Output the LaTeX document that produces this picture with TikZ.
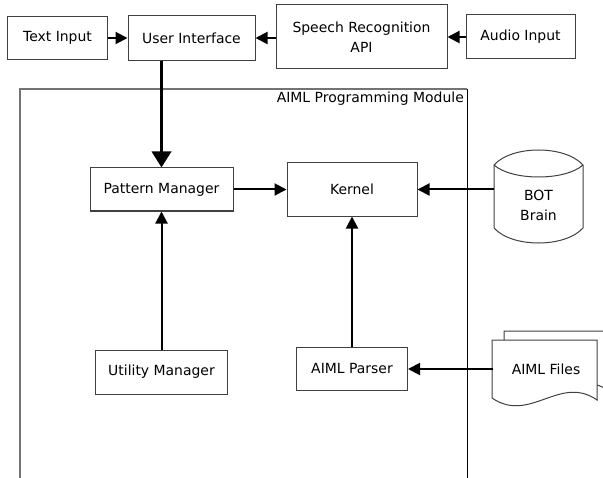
\documentclass[tikz,border=0pt]{standalone}
\usepackage{fontspec}
\setmainfont{DejaVu Sans}
\usepackage{tikz}
\usetikzlibrary{arrows.meta,positioning}

\begin{document}
\begin{tikzpicture}[x=1bp, y=-1bp, font=\fontsize{14}{20}\selectfont,
	>={Triangle[length=12bp,width=12bp]},
	box/.style={draw=black!75, line width=1bp, fill=white, inner sep=0pt, align=center},
	link/.style={->, line width=2bp},
	biglink/.style={-{Triangle[length=16bp,width=19bp]}, line width=3.5bp}]
\clip (0,0) rectangle (603,478);

% ---- module frame ----
\draw[black!55, line width=2bp] (20,482) |- (467,89);
\draw[line width=0.9bp] (467,89) -- (467,482);
\node[anchor=north east, inner sep=1pt] (modlabel) at (465,91) {AIML Programming Module};

% ---- input row ----
\node[box, minimum width=99bp, minimum height=43bp] (txtin) at (57.5,38) {Text Input};
\node[box, minimum width=127bp, minimum height=45bp] (ui) at (191.5,38) {User Interface};
\node[box, minimum width=171bp, minimum height=64bp] (speech) at (361.5,37) {Speech Recognition\\API};
\node[box, minimum width=109bp, minimum height=44bp] (audio) at (520.5,37) {Audio Input};

% ---- module blocks ----
\node[box, minimum width=143bp, minimum height=43bp] (pattern) at (161.5,189.5) {Pattern Manager};
\node[box, minimum width=130bp, minimum height=53bp] (kernel) at (352,189.5) {Kernel};
\node[box, minimum width=132bp, minimum height=44bp] (util) at (161.5,372) {Utility Manager};
\node[box, minimum width=111bp, minimum height=43bp] (parser) at (352,369) {AIML Parser};

% ---- bot brain (cylinder) ----
\begin{scope}[draw=black!75, line width=1bp]
	\filldraw[fill=white] (494,165) .. controls (512,145) and (565,145) .. (583,165)
		-- (583,228) .. controls (565,248) and (512,248) .. (494,228) -- cycle;
	\draw (494,165) .. controls (512,181) and (565,181) .. (583,165);
\end{scope}
\node[minimum width=89bp, inner sep=0pt, align=center] (brain) at (538.5,205) {BOT\\Brain};

% ---- aiml files (stacked pages) ----
\begin{scope}[draw=black!75, line width=1bp]
	\filldraw[fill=white] (504,389) -- (504,331) -- (609,331) -- (609,391)
		.. controls (572,365) and (542,415) .. (504,389) -- cycle;
	\filldraw[fill=white] (492,398) -- (492,340) -- (597,340) -- (597,400)
		.. controls (560,374) and (530,424) .. (492,398) -- cycle;
\end{scope}
\node[minimum width=105bp, inner sep=0pt] (files) at (546,369) {AIML Files};

% ---- connectors ----
\draw[link] (txtin) -- (ui);
\draw[link] (audio) -- (speech);
\draw[link] (speech.west |- ui.east) -- (ui.east);
\draw[biglink] (ui.south -| pattern.north) -- (pattern.north);
\draw[link] (pattern) -- (kernel);
\draw[link] (kernel.east -| brain.west) -- (kernel.east);
\draw[link] (util) -- (pattern);
\draw[link] (parser) -- (kernel);
\draw[link] (parser.east -| files.west) -- (parser.east);
\end{tikzpicture}
\end{document}
